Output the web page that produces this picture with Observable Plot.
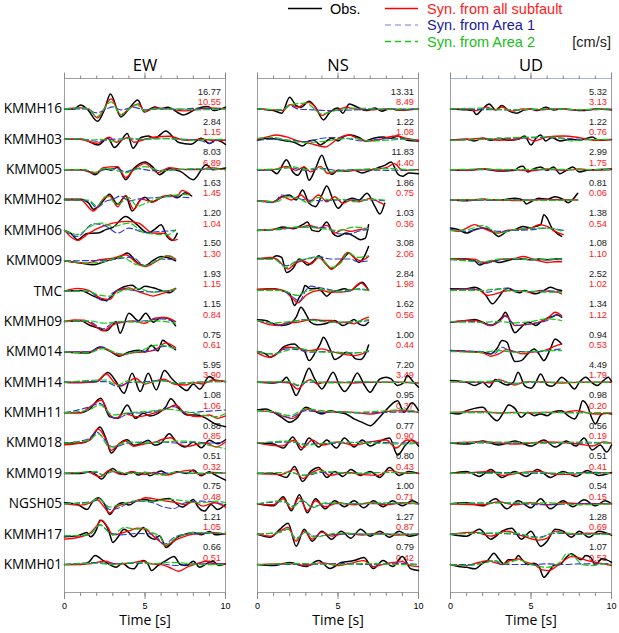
<!DOCTYPE html>
<html><head><meta charset="utf-8">
<script src="https://cdn.jsdelivr.net/npm/d3@7"></script>
<script src="https://cdn.jsdelivr.net/npm/@observablehq/plot@0.6"></script>
<style>
body{margin:0;background:#fff;font-family:"Open Sans",sans-serif;}
#legend{height:50px;width:619px;}
#legend svg,#chart svg{display:block;}
</style></head><body>
<div id="legend"></div><div id="chart"></div>
<script>
const stations = ["KMMH16","KMMH03","KMM005","KMMH02","KMMH06","KMM009","TMC","KMMH09","KMM014","KMMH14","KMMH11","KMM018","KMM019","NGSH05","KMMH17","KMMH01"];
const components = ["EW","NS","UD"];
const timeTicks = [0,1,2,3,4,5,6,7,8,9,10];
const timeLabels = [0,5,10];

// peak amplitudes [cm/s]
const obsMaxEW = ["16.77","2.84","8.03","1.63","1.20","1.50","1.93","1.15","0.75","5.95","1.08","0.88","0.51","0.75","1.21","0.66"];
const synMaxEW = ["10.55","1.15","6.89","1.45","1.04","1.30","1.15","0.84","0.61","3.90","1.06","0.85","0.32","0.48","1.05","0.51"];
const obsMaxNS = ["13.31","1.22","11.83","1.86","1.03","3.08","2.84","1.62","1.00","7.20","0.95","0.77","0.80","1.00","1.27","0.79"];
const synMaxNS = ["8.49","1.08","4.40","0.75","0.36","2.06","1.98","0.56","0.44","3.49","0.37","0.90","0.43","0.71","0.87","0.42"];
const obsMaxUD = ["5.32","1.22","2.99","0.81","1.38","1.08","2.52","1.34","0.94","4.49","0.98","0.56","0.51","0.54","1.28","1.07"];
const synMaxUD = ["3.13","0.76","1.75","0.06","0.54","1.10","1.02","1.12","0.53","1.79","0.20","0.19","0.41","0.15","0.69","0.53"];

// waveforms: "time,amplitude" pairs (amplitude in display units, up positive)
const obsEW = [
"0,0 0.6,0 1.0,4 1.4,0 2.05,-12.4 2.5,0 2.85,15 3.5,-8 4.0,0 4.55,9 4.95,-3 5.6,2 6.0,0 6.4,1.7 7.4,-6 8.2,0 8.9,2.3 9.3,-1.7 10,1.7",
"0,0 1.0,0 1.45,-1.7 2.07,-5.7 2.7,1 3.1,-8.3 3.5,-1.7 3.9,5.7 4.25,-9 4.75,1.7 5.2,3.3 5.6,1 6.3,8.3 6.8,1 7.1,-3.3 7.85,-5 8.5,1 9.0,-4.3 9.4,-0.7 10,-5",
"0,0 1.0,0 1.5,-1.7 1.9,-5 2.4,1 2.9,-0.5 3.3,2.3 3.8,-10 4.3,1 5.0,7.7 5.5,2.3 5.9,-5 6.5,1 7.2,-1.7 8.0,-10 8.8,5 9.2,0 10,1.7",
"0,0.7 1.0,0.7 1.5,-3 1.8,-9.3 2.4,-1 2.8,5.7 3.3,-4.3 3.8,4 4.2,-11 4.7,0 5.0,2.7 5.4,-2 6.0,2.3 6.6,4.7 7.0,2.3 7.5,7.3 7.9,4",
"0,0 0.4,-3 0.8,-9.3 1.4,-3 2.07,-2.7 2.6,1 3.0,3 3.8,14 4.5,5.7 5.2,-2.7 5.6,1 6.0,5.7 6.4,-7 6.7,-10 7.0,-3",
"0,0 1.0,-2.3 1.8,-4 2.5,-0.7 3.5,4.3 3.9,7.7 4.5,-1.7 5.0,-5 5.5,0.3 6.0,4.3 6.5,2.7 6.9,0",
"0,0 1.0,0.7 1.8,-5 2.6,-9.3 3.2,0 4.2,6 4.6,1.7 5.0,5 5.5,3.3 6.0,0.7 6.5,-1.7 6.9,2.7",
"0,0 1.0,0.7 1.6,-4 2.0,-6 2.6,-9.3 3.0,-3.3 3.2,0 3.45,-11.7 4.0,8.3 4.6,0.7 5.05,8.3 5.5,-0.7 6.0,4 6.5,2.7 6.9,-4.3",
"0,0 1.5,-1 2.2,5 2.8,1 3.4,-4.3 4.0,0 4.6,1.7 5.0,0 5.4,6.7 5.8,1 6.1,11.7 6.5,6.7 6.9,2.3",
"0,0 1.0,-0.3 2.0,0.7 2.7,9.7 3.2,0.7 3.7,-11 4.2,9 4.7,-9.3 5.2,9 5.7,-7.7 6.2,11.7 6.7,3 7.2,-4.3 7.6,-8.3 8.0,-1.7 8.4,-7 9.0,5.7 9.4,1.7 10,0.7",
"0,0 1.0,0 1.5,2.7 2.25,14.4 2.8,-4 3.3,-5.7 3.9,7.7 4.4,-5.7 4.9,-0.7 5.3,-3.3 5.8,-0.7 6.3,6 6.6,14 7.1,4.3 7.6,-2.3 8.2,-2.3 8.8,-5.7 9.3,-10.7 10,-14",
"0,0 1.0,0 1.6,3.3 2.2,16 2.6,3.3 2.9,-10 3.4,-0.7 3.9,3.3 4.3,-2.3 4.8,0 5.2,2.7 5.6,-2.3 6.0,0 6.5,9.3 7.0,0 7.5,-4 8.0,1 8.5,-4.7 9.0,2.7 9.5,-0.7 10,3.3",
"0,0 1,0 1.6,1.7 2.0,-1.7 2.3,-5.7 2.7,1.7 3.0,5 3.4,0 3.8,-1 4.2,1.7 4.6,-1.7 5.0,1 5.3,-2.3 6.0,2.3 6.5,-1 7.0,1.7 7.6,0 8.0,3.3 8.5,-2.3 9.0,1.7 9.3,-1 10,-6.7",
"0,1 0.8,-0.7 1.4,-5.7 1.8,3.3 2.1,6 2.5,-0.7 2.8,-10.7 3.2,-2.3 3.6,1 4.0,-1.3 4.5,3.3 5.0,4.3 5.5,2.7 6.0,4.3 6.5,5.3 6.9,1 7.3,-3.3 7.6,-0.7 8.0,4.3 8.3,-3.3 8.7,-7.3 9.1,-0.7 9.5,-5.7 10,-0.7",
"0,-2.7 0.8,-1.7 1.4,1.7 1.6,-2.7 2.0,5 2.2,14 2.6,8.3 2.8,0.7 3.0,-8.3 3.3,-3.3 3.7,5 4.0,1.7 4.3,-2.7 4.6,1.7 4.9,6.7 5.2,-1.7 5.6,-5 5.9,-1.7 6.1,-6.7 6.3,-13.3 6.7,-8.3 7.0,-3.3 7.5,0 8.0,1.7 8.5,-0.7 9.0,2.7 9.4,-0.7 10,0.7",
"0,0 1.0,0 1.5,2.3 1.9,9 2.4,4 2.8,0 3.2,-2.7 3.6,1.3 4.0,-3.3 4.3,-4.3 4.6,1.3 4.9,4 5.2,0 5.4,-6 5.8,-1 6.3,4 6.8,8 7.2,0 7.6,-1 8.0,3.3 8.4,-2.7 8.8,0.7 9.2,3.3 9.6,-1 10,0.7"];
const synEW = [
"0,0 1.0,1 1.5,0 2.05,-9 2.9,10 3.5,-6 4.0,0 4.6,5 5.0,-3 5.6,1 6.5,0 7.4,-2 8.5,0 9,1 10,0",
"0,0 1,0 2.0,-4 2.8,2 3.2,-3 4.0,2 4.3,-3 5.0,0 5.5,2 6.5,3 7.5,-1 8.5,0 9.3,-1 10,-1",
"0,0 1,0 1.9,-4 2.4,2 3.3,3 3.8,-8 4.3,0 5.0,6 5.8,-3 6.5,2 7.5,0 8.5,0 9.0,2 10,0",
"0,0 1.0,0 1.8,-11 2.4,0.7 2.8,4 3.3,-6.7 3.8,4.7 4.3,-9.3 4.8,0.7 5.5,-2 6.2,4 7.0,4 7.3,9.7 7.8,5.7",
"0,0 0.8,-10 1.5,-3 2.1,2.3 3.0,7.3 3.9,9 4.6,7.3 5.5,-2.7 6.2,-3 6.8,-10 7.0,-9",
"0,0 1.3,-2.3 2.2,1 3.0,2.7 3.8,6 4.5,-2.3 5.0,-5.7 5.7,-0.7 6.4,5 6.9,1.7",
"0,0 0.8,2.7 1.5,0.7 2.3,-7.3 2.8,-8.3 3.3,0.7 4.0,3.3 4.5,0 5.0,-2.7 5.5,-5 6.0,-2.7 6.5,0 6.9,2.7",
"0,0 0.6,1.7 1.2,1.3 1.8,-3.3 2.4,-9.3 3.0,-3.3 3.6,-0.7 4.2,0.7 5.0,-1.7 5.6,3.3 6.2,4 6.9,0",
"0,0 1.5,0 2.3,4.3 3.0,-1 3.5,-3.3 4.2,-1 5.0,0 5.6,1.7 6.3,9 6.9,4.3",
"0,0 1.0,-0.3 2.0,0.7 2.6,8.3 3.1,-0.3 3.5,-3.7 4.0,0.7 4.4,4 5.0,-1.7 5.5,0.7 6.2,3 6.8,-1.7 7.5,-2.7 8.0,-0.3 8.6,-1.7 9.2,2.3 10,0.7",
"0,0 1.0,0 1.6,6 2.3,12.7 2.8,-2.3 3.2,-5.7 3.7,-0.7 4.5,-4 5.5,-0.7 6.4,4.3 6.9,7.7 7.5,-0.7 8.3,-4 9.0,-2.3 9.5,-5.7 10,-3.3",
"0,-1.7 1.0,0 1.5,2.7 2.1,14 2.6,2.7 2.9,-7.3 3.4,-0.7 3.8,2 4.3,-3.3 5,-0.7 5.5,0 6.0,3.3 6.6,5.3 7.1,-0.7 7.7,-3.3 8.2,-1.3 8.8,0 9.4,-4 10,1",
"0,0 1.5,1 2.2,-3.3 2.8,3.3 3.5,-1 4.2,1.7 5.0,-1 5.6,1 6.3,-1.7 7.0,1 7.8,3.3 8.4,-1 9.2,1 10,0",
"0,0 1.0,-1.3 1.6,1 2.0,4.3 2.5,-4 2.8,-9 3.3,-2.3 4.0,1 4.6,3.3 5.0,6 5.8,4.3 6.3,2.7 7.0,1 7.5,-0.7 8.0,2 8.6,-2.3 9.3,1 10,-3.3",
"0,-5 0.8,-3.3 1.5,0 2.0,8.3 2.3,14 2.7,6.7 3.0,-0.7 3.5,0.7 4.0,3.3 4.5,6 5.0,5 5.5,-1.7 6.0,-8.3 6.3,-11.7 6.8,-6.7 7.3,-3.3 8,0 8.6,0.7 9.2,1.7 10,0",
"0,0 1.5,0.7 2.5,3.3 3.2,0.7 4,1.3 4.8,3.3 5.4,0.7 6.0,0 6.5,-2.7 7.1,-6.7 7.6,-2.7 8.2,0.7 8.8,3.3 9.4,0.7 10,0.7"];
const area1EW = [
"0,0 1.3,0 2.0,-4 2.6,0 3.0,2 3.5,-1 4.3,1.5 5.0,-1 6,0 7,-0.5 8,0.5 10,0",
"0,0 1.2,0 2.0,-2 3,0 4,0.5 4.5,0 6,0.5 7.5,0 8.5,-1.5 9.0,-4 9.5,-1 10,0",
"0,0 1.2,0 1.8,-3 2.5,0 3.2,1 3.8,-2 4.5,1 5.5,-1 7,0 8,0.5 10,0",
"0,0 1.5,-1 2.0,-7.7 2.6,-1 3.0,0.7 3.5,4 4.0,-1 4.5,0.7 5.5,2.3 6.5,3.3 7.8,2.3",
"0,0 0.8,-6 1.8,6.7 2.6,4 3.3,-2.7 4.0,2.3 5.0,-2 6.0,-1 6.9,0",
"0,0 2.0,0.3 3.2,1.7 4.2,3.7 5.0,-5 6.0,1.7 6.9,1",
"0,0 1.5,0 2.2,-8.3 2.6,-10 3.0,-1.7 3.8,1.7 4.5,0 5.5,-0.7 6.9,1.7",
"0,0 1.5,0 2.4,-7.3 3.0,-1.7 4,0 5,0.7 6,2.7 6.9,-0.7",
"0,0 1.5,0 2.3,5 3.0,0 3.6,-2.3 4.5,0 5.5,1.7 6.0,5 6.5,5.7 6.9,2.3",
"0,0 2.5,0.7 3.3,-4.3 4.0,-0.3 5,0.7 6,1.7 7,-1 8,0 10,0.7",
"0,0 1.6,6 2.2,9.3 2.8,-2.3 3.3,-5.7 4.0,-0.7 5,0 6,2.7 6.8,6 7.5,0 8.5,1 10,2.7",
"0,0 1.5,4.3 2.0,11 2.5,3.3 3.0,-4 4,0 5,1 6,1 7,0 8,1 9,0 10,1",
"0,0 2,1 2.4,-1.7 3,1.7 4,0 5,1 6,0 7,1 8,0 10,0.7",
"0,0 1.8,2.7 2.2,4.3 2.8,-5.7 3.5,-3.3 4.0,1 4.8,2.7 5.5,1 6.2,-3.3 6.8,-4.7 7.5,1 8.5,2.7 9.5,1 10,-1.3",
"0,-1.7 1.5,-0.7 2.2,9.3 2.8,1.7 3.5,-0.7 4.5,0.7 5.5,0 6.2,-10 6.8,-3.3 7.5,0 8.5,0.7 10,0.7",
"0,0 2.0,2 3,0.7 4.5,1.3 6,0.7 7,-1 8,0.7 10,0.7"];
const area2EW = [
"0,0 1.0,1 1.5,0 2.0,-8 2.9,7 3.5,-6 4.0,0 4.5,4 5.0,-2 5.6,0 7,0 8,-1 10,0",
"0,0 1.0,0.5 1.5,-1 2.3,0 3.0,-2 4.0,1 5,0 6,1 7,0 8,-1 9,0 10,0",
"0,0 1.2,0 2.0,-3 2.4,1 3.0,0 3.8,-3 5.0,3 6.0,-1 7,0 8,1 10,0",
"0,0 1.5,0 2.0,-6 2.6,4 3.3,-4.3 4.0,2.3 4.5,-6 5.5,0 6.5,4 7.5,5.7 7.8,4",
"0,0 0.8,-4 1.6,4 2.3,7.3 3.0,4 4.0,7.3 5.0,-2.7 6.4,-4.3 6.9,0.7",
"0,0 1.5,-2.3 2.5,-0.7 3.5,3.7 4.5,-4 5.0,-5 6.0,2.7 6.5,5 6.9,1.7",
"0,0 1.5,0 2.0,-3.3 2.8,-5 3.5,0 4.5,2.7 5.5,-1 6.9,1.7",
"0,0 1.5,0.7 2.5,-1.7 3.5,0 4.5,-0.7 5.5,0.7 6.9,-1.7",
"0,0 1.5,-1 2.4,3.3 3.5,-2.3 4.5,0 5.8,6.7 6.9,3.3",
"0,0 2.5,2.3 3.3,-2.7 4.0,1.7 5.0,-1 6.0,1.7 7.0,-1 8,0 10,0.7",
"0,0 1.5,2.7 2.2,7.7 3.0,-2.3 4,0 5,1 6.5,3.3 7.5,1 9.5,-4 10,-0.7",
"0,0 1.5,2.7 2.1,9.3 2.8,-4 4,1 5,0 6,1 7.5,2 9.0,-2.3 10,-5.7",
"0,0 2.0,1.7 2.4,-1.7 3.0,2.3 4,0 5,1 6.0,-1.7 7,1.7 8,0 10,0",
"0,0 1.5,1 2.1,5.3 2.8,-3.3 3.5,-0.7 4.5,3.3 5.5,2.7 6.5,4.3 7.3,3.3 8.5,1 9.5,2.7 10,1",
"0,-1.7 1.5,-0.7 2.2,9.3 3.0,-0.7 3.7,6.7 4.5,5 5.0,5.7 5.4,1.7 5.9,-1.7 6.3,-10.7 6.8,-5 7.5,0 8,1.7 10,0.7",
"0,0 2.0,1.3 3,0 4.5,2.3 5.5,0.7 6.5,2.3 7.5,1.3 8.5,0 10,0"];

const obsNS = [
"0,0 1.0,-1.7 1.5,-4.3 2.0,11.7 2.4,3.3 2.7,1.7 3.2,7.7 3.6,1.7 4.1,-11 4.5,-3.3 5.0,1 5.3,-4.3 5.7,5 6.2,1.7 6.8,-1.7 7.3,1 7.7,-2.3 8.2,0 8.7,-1 9.2,-1 10,0",
"0,-1 0.6,1 1.2,0 1.8,-1.7 2.3,-3.3 2.8,-6.7 3.2,-1.7 3.5,-1 3.9,-5.7 4.3,-1.7 4.6,1 5.0,-1.7 5.4,3.3 5.8,4.3 6.3,1.7 6.7,-1.7 7.2,1 7.8,2.3 8.3,1 8.7,3.3 9.3,-1 10,-1.7",
"0,0 0.8,0 1.2,-4 1.8,10 2.2,-2.3 2.5,-5.7 2.9,2.7 3.2,-10.7 3.6,1 4.0,14.3 4.3,2.7 4.6,-4.7 5.0,-0.7 5.5,-1.3 6.0,-0.7 6.5,-3.3 7.0,-0.7 7.5,2 7.9,4.3 8.3,7.7 8.7,-4 9.0,-6.7 9.4,-3.3 10,-4",
"0,-1 1.0,-1.7 1.5,3.3 2.0,5 2.4,0 2.8,10 3.2,-3.3 3.6,-6.7 4.0,5 4.3,14 4.7,0 5.0,-8.3 5.4,-1.7 5.9,1.7 6.3,0 6.8,6.7 7.3,-6.7 7.6,-14 7.9,-3.3",
"0,0 1.0,1 1.6,3.3 2.2,1.7 2.8,5.7 3.1,8.3 3.4,0 3.8,-1 4.3,8.3 4.7,-3.3 5.0,-6 5.5,-2.7 6.0,-6 6.4,-9.3 6.7,-7.7 6.9,5.7",
"0,2.3 0.8,2.3 1.2,5 1.5,3.3 1.8,-11.7 2.2,-7.7 2.6,1.7 2.9,-1.7 3.1,-4.3 3.5,0 3.8,5 4.2,-1.7 4.6,-8.3 4.9,-5 5.3,1.7 5.7,7.7 6.0,3.3 6.3,-1.7 6.6,3.3 6.9,14.3",
"0,1.7 1.0,2.3 1.5,0.7 2.0,-2.7 2.3,-14.3 2.6,-6 2.8,-1 2.95,5.7 3.3,2.3 3.7,3 4.0,-0.3 4.3,-5 4.6,-1 5.0,0.7 5.4,2.3 5.8,0.7 6.2,5.7 6.5,9 6.9,0.7",
"0,1.7 0.5,1 1.0,-2.3 1.5,-4 2.0,-2.3 2.4,4.3 2.7,14.3 3.0,7.7 3.3,-0.7 3.7,-3.3 4.2,-2.3 4.8,1 5.3,-4 5.7,-0.7 6.0,2 6.3,-2.3 6.6,-4 6.9,-0.7",
"0,0.3 0.5,-2 0.8,-5.3 1.2,-2 1.6,4.7 1.9,7 2.3,8 2.6,3.7 2.9,1.3 3.2,-8.7 3.6,-0.3 3.9,8 4.1,14.7 4.5,3 4.8,-7.7 5.1,-5.3 5.5,-0.3 5.8,-2 6.1,-7 6.4,-7.7 6.7,-2 6.9,7",
"0,0 1.0,-0.7 1.5,0.7 1.8,5 2.1,-3.3 2.4,-13.3 2.8,0 3.2,14 3.5,5 3.8,-3.3 4.0,-6.7 4.3,0 4.7,10 5.1,-3.3 5.4,-9.3 5.8,-1.7 6.2,9.3 6.6,-1.7 7.0,-10 7.3,-3.3 7.6,3.3 8.0,5 8.3,3.3 8.7,-3.3 9.1,0 9.3,6.7 9.7,0 10,-5",
"0,2.7 0.5,3.7 1.0,0.3 1.5,-4.7 2.0,-9.7 2.4,-6.3 3.0,5.3 3.5,2 4.0,-1.3 4.5,2 5.0,0.3 5.5,-1.3 6.0,-6.3 6.5,-9.7 7.0,-13 7.5,-6 8.0,3 8.7,12 9.1,0.3 9.6,10 10,2",
"0,0 1,-1 1.6,-5 2.2,6 2.7,-7 3.2,5 3.8,-4 4.3,3 4.9,-5 5.4,5 6.0,-4 6.5,3 7.0,-3 7.5,1 8.2,5 8.7,-12 9.2,-2 9.6,3 10,-3",
"0,0 1,0 1.8,-4 2.3,7 2.8,-8 3.3,2 3.8,6 4.3,-4 4.8,2 5.3,-3 5.8,4 6.4,-2 7,2 7.6,-4 8.2,6 8.8,-2 9.4,2 10,0",
"0,0 1,-2 1.6,7 2.1,-7 2.6,9 3.1,-9 3.6,5 4.2,-5 4.8,3 5.4,-3 6,3 6.6,-4 7.2,3 7.8,-3 8.4,3 9,-2 9.6,3 10,0",
"0,0 0.8,-3 1.4,5 1.9,11 2.4,-12 2.9,5 3.4,-7 4,3 4.6,-5 5.2,3 5.8,-4 6.4,5 7,-2 7.6,3 8.2,-3 8.8,3 9.4,-2 10,0",
"0,0 1,-1 2,2 3,-2 3.8,4 4.5,-4 5.2,2 6,4 6.6,7 7.2,-4 7.8,4 8.4,-2 9,8 9.5,-4 10,-6"];
const synNS = [
"0,0 1,-1 1.6,-1.7 2.0,4.3 2.5,1.7 3.1,6.7 3.5,3.3 4.0,-6.7 4.5,-2.3 5.0,-1 5.5,1.7 6,0 7,-1 8,0 9,-1 10,0",
"0,0 0.6,2.3 1.2,4.3 1.8,2.3 2.5,-1.7 3.3,-4.3 4.2,-7.7 4.8,-1.7 5.2,2.3 5.7,4.3 6.2,1 6.8,-1.7 7.4,-1 8.0,1.7 8.6,3.3 9.2,1 10,-1",
"0,0 1.0,0 1.8,3.3 2.4,-0.7 2.9,2.7 3.3,-2.3 3.9,3.3 4.4,-4 5.0,-1.3 6,-0.7 7,0 8,2 8.5,6 9,-0.7 10,0",
"0,-1 1.0,-1.7 1.6,3.3 2.1,0 2.7,5 3.2,-1.7 3.8,5 4.3,-1.7 4.8,3.3 5.3,-3.3 5.8,0 6.3,-1.7 7.0,1.7 7.5,-1.7 7.9,-5",
"0,0 1,1 2,2.3 2.7,3.3 3.2,5 3.8,2.3 4.3,5 4.8,-2.7 5.3,0.7 5.8,-1 6.3,0.7 6.9,2.3",
"0,1.7 0.8,3.3 1.2,1.7 1.9,-8.3 2.3,-3.3 2.8,0 3.3,-3.3 3.8,3.3 4.3,-4.3 4.6,-8.3 5.0,-3.3 5.6,8.3 6.0,3.3 6.4,0 6.9,4.3",
"0,1.7 1,2.3 1.6,0.7 2.2,-7.7 2.5,-11.7 3.0,-4.3 3.5,-0.3 4.0,0.7 4.5,-1 5.2,-1 5.8,0.7 6.4,8.3 6.9,0.7",
"0,1 0.8,-3.3 1.3,-4 1.8,-1.3 2.5,-0.7 3.0,1 3.5,2 4.0,1 4.6,1 5.0,-1.3 5.5,-0.7 6.0,-2.3 6.5,2 6.9,4.3",
"0,-1 0.7,-5.3 1.2,-2 1.8,4.7 2.5,3.7 3.2,1.3 4.0,3 4.7,-0.3 5.3,-2 6.0,-3.7 6.5,-2 6.9,1.3",
"0,0 1.5,0 2.0,-0.7 2.5,-6.7 3.0,0.7 3.3,2.7 3.7,-1.7 4.2,0 5,0 6,-0.7 7,0 8,0 9,0 10,-0.7",
"0,2 1,0.3 1.5,-3 2.2,-5.7 3.0,3.7 3.5,2 4,0.3 5,1 6,0.3 7,-1.3 8,1 9,2 10,0.3",
"0,0 1.5,-3 2.3,3 2.8,-5 3.4,3 4,-2 5,1 6,-2 7,1 8,3 8.6,-5 9.3,3 10,0",
"0,0 1.5,-1 2.3,4 2.8,-5 3.4,1 3.9,4 4.5,-2 5.5,1 6.5,-1 7.5,-2 8.2,3 9,0 10,0",
"0,0 1,-1 1.6,5 2.1,-5 2.6,6 3.1,-7 3.6,3 4.2,-3 5,1 6,-1 7,1 8,-1 9,1 10,0",
"0,0 0.8,-2 1.4,3 1.9,7 2.4,-7 2.9,3 3.4,-5 4,2 4.6,-2 5.5,1 6.5,-1 7.5,1 8.5,-1 10,0",
"0,0 2,1 3,-1 4,2 5,-1 6,2 6.6,4 7.2,-2 8,1 9,3 9.5,-1 10,-2"];
const area1NS = [
"0,0 1.5,-1 2.0,3.3 2.5,0 3.5,-1 4.5,-1.7 6,-1 8,-0.3 10,0",
"0,-1 1,0 2,-1 3,-2.3 4,1 4.5,1.7 5.5,1 6.5,-1.7 7.5,0 8.5,1 10,-1",
"0,-0.7 1,0 2,2 3,-0.7 4,1 5,-0.7 6,0 8,-0.7 10,0",
"0,-1 1.0,-2.7 1.5,5 2.0,3.3 2.5,1.7 3.0,0 4,-0.7 5,0 6,0 7,0 7.9,-0.7",
"0,0 1.5,1 2.5,3.3 3.5,3.3 4.5,1.7 5.0,-3.3 5.5,-4 6.5,0 6.9,1",
"0,1.7 1,1.7 1.8,-5 2.3,-1.7 3.0,1.7 3.8,4.3 4.5,1.7 5.0,1.7 5.8,1.7 6.2,-1 6.9,0",
"0,0.7 1.5,0.7 2.2,-6 2.6,-10 3.0,0.7 3.3,5 4.0,3 4.8,0.7 5.5,-0.3 6.3,2.3 6.9,0.7",
"0,1 1.0,-2.3 1.5,-3.3 2.0,-0.7 2.5,1 3.0,2 3.8,1 4.5,-0.7 5.5,-0.7 6.5,0 6.9,1",
"0,-0.3 1,-2 1.8,3 2.5,2.3 3.2,-0.3 4,0.3 5,-0.3 6,-1 6.9,0.3",
"0,0 2,0 2.5,-3.3 3,0 4,0 6,0 8,0 10,-0.7",
"0,2 1,0.3 2,-4.7 3,2 4,0.3 5,1 6,-0.3 8,0.3 10,1",
"0,0 2,1 3,-1 5,0 7,1 9,0 10,0",
"0,0 2,1 3,-2 4,1 6,0 8,1 10,0",
"0,0 1.6,2 2.2,-2 2.8,3 3.4,-3 4.2,0 6,0 8,0 10,0",
"0,0 1.4,2 1.9,5 2.4,-4 3,2 3.5,-2 5,0 7,0 10,0",
"0,0 3,0 5,1 7,0 9,1 10,0"];
const area2NS = [
"0,0 1.5,-1 2.1,4.3 3.0,5.7 4.0,-5 5.0,-1 6,0.7 8,-0.3 10,0",
"0,1 1,1.7 2,-1.7 3,-3.3 4,-2.3 5,0 6,1 7,-1.7 8,-1 9,0 10,-1",
"0,0 1.5,1 2.2,2.7 3,0 3.8,2 4.5,-2.3 6,0 8,1 10,-0.7",
"0,-1 1.2,-1.7 1.8,3.3 2.5,1.7 3.2,-2.7 3.8,2.7 4.5,0 5.2,0.7 6,-1.7 7,0.7 7.9,0",
"0,0 1.5,1.7 2.2,3.3 3,3.3 4,1.7 5,0 6,3.3 6.9,1.7",
"0,1.7 1,1.7 1.8,-6.7 2.3,-1 3.0,1.7 3.8,3.3 4.6,-6.7 5.2,-1.7 5.6,8.3 6.2,3.3 6.9,5",
"0,0.7 1.5,0.7 2.5,-4.3 3,-0.3 4,1.7 5,-0.3 6,1.7 6.9,0.7",
"0,1 1.0,-1.3 2.0,0 3.0,1.7 4.0,0 5.0,-0.7 6.0,0 6.9,2",
"0,0.3 1,-2 1.8,1.3 2.5,3.7 3.5,0.3 4.5,-0.3 5.5,-1 6.5,-0.3 6.9,1.3",
"0,0 2,0.7 2.5,-2.7 3.2,1.7 4,0 5,-0.7 6,0.7 8,0 10,0",
"0,2 1,1 2,-3 3,3.7 4,2 6,0.3 8,2 9,3 10,1",
"0,0 2,2 3,-2 5,1 7,0 9,-1 10,0",
"0,0 2,1 2.8,-2 4,2 6,0 8,1 10,0",
"0,0 1.6,3 2.2,-3 2.8,4 3.4,-4 4.2,1 6,0 8,1 10,0",
"0,0 1.4,2 1.9,5 2.4,-5 3,2 3.5,-3 5,1 7,0 10,0",
"0,0 3,1 5,0 7,1 9,0 10,0"];

const obsUD = [
"0,0 1.0,-1 1.4,-1.7 1.6,-5.7 2.0,0 2.4,5 2.8,-1 3.2,3.3 3.6,-1.7 4.1,-4.3 4.6,-1 5.0,0 5.4,-1.7 5.9,1.7 6.4,-1 7,0 8.2,-1.7 9,0 10,-1",
"0,-1 1,0 1.5,-1.7 2,1 2.5,-1 3,1 3.6,-1 4.2,0 4.6,3.3 5.0,-5.7 5.3,1 5.6,4.3 5.9,-1.7 6.3,1.7 6.8,-1.7 7.5,0 8,-1 8.8,2.3 9.2,-1 10,-0.3",
"0,0 1,-0.7 2,0.7 3,-1.3 4.0,-0.7 4.2,2 4.5,3.3 4.8,-2.3 5.2,1 5.6,2.7 6.0,-0.7 6.4,2.7 6.8,-4 7.2,-0.7 7.6,2.7 8.0,-2.3 8.5,-0.7 9,0 10,0.7",
"0,0 1,-0.7 2,0.7 3,0 4,1.7 4.5,0 4.7,-4 5.0,-1.7 5.5,1.7 6.0,0.7 6.5,3.3 7.0,0.7 7.3,-2.7 7.6,0.7 7.9,6.7",
"0,2.3 0.5,0.7 1,-2.7 1.5,0.7 2,2.3 2.5,0 3,-6 3.5,-1 4,0.7 4.5,4 5,2.3 5.3,4 5.6,5.7 5.8,15.7 6.0,12.3 6.3,2.3 6.6,-2.7 6.9,-6",
"0,1.7 1,1.7 1.5,0 1.8,-4.3 2.2,-1.7 2.6,0 3,-1.7 3.5,0 4,1.7 4.5,1.7 5,1 5.5,1.7 6,1 6.5,1.7 6.9,1.7",
"0,2.3 1,2.3 1.5,4 1.8,2.3 2.2,-4.3 2.6,-12.7 3.0,-6 3.3,0.7 3.6,3 4.0,-0.3 4.3,-1.7 4.6,0.7 4.9,-1 5.3,-2.7 5.8,0.7 6.2,4 6.6,1.7 6.9,0.7",
"0,-0.7 0.5,0 1,1 1.5,2 2,-0.7 2.5,-4 3,1 3.2,4.3 3.4,9.3 3.6,4.3 3.8,-5.7 4.0,-11.3 4.3,-7.3 4.6,-2.3 4.9,-0.7 5.3,-4 5.6,-0.7 6,3.3 6.4,5.3 6.6,6.7 6.9,4.3",
"0,1.3 1,0.3 2,-0.3 2.5,-2 2.9,3.7 3.2,11.3 3.5,9.7 3.8,-3.7 4.0,-9.7 4.4,-8.7 4.8,-2 5.2,3 5.5,-2 5.8,-8.7 6.2,3 6.5,13 6.8,9.7 6.9,8",
"0,1.7 1,0 1.5,-3.3 2,0 2.4,-5 2.8,2.7 3.1,0 3.5,-2.7 3.9,0 4.2,10 4.6,-3.3 5.0,-6 5.3,0 5.6,8.3 6.0,-2.7 6.3,-4 6.6,0 6.9,5 7.3,0 7.7,-6.7 8.0,0 8.4,5 8.8,-0.7 9.1,-3.3 9.5,1.7 9.8,5 10,0.7",
"0,-0.3 0.5,-1.3 1,2 1.5,4.3 2,5.3 2.4,-1.3 2.9,-8 3.3,0.3 3.6,7.7 4.0,4.3 4.4,-4.7 4.8,0.3 5.2,-3 5.6,-1.3 6.0,-3 6.4,1 6.9,2 7.3,-3 7.7,-6.3 8.0,2 8.2,12 8.5,7 8.8,-6.3 9.0,-11.3 9.3,-3 9.6,-0.3 10,-1.3",
"0,0 1,-1 2,2 3,-2 4,2 5,-3 5.8,3 6.5,-4 7.2,2 7.8,-3 8.3,5 8.8,-7 9.3,-2 9.7,-9 10,-2",
"0,0 1,2 1.8,-3 2.5,4 3.2,-4 4,2 4.7,-3 5.4,4 6.2,-4 7,2 7.8,-3 8.5,3 9.2,-2 10,1",
"0,0 1,1 2,-2 2.8,5 3.5,-5 4.2,3 5,-4 5.6,5 6.2,-5 7,3 7.6,-3 8.3,4 9,-2 9.6,3 10,0",
"0,0 1,-2 1.8,5 2.5,-5 3.2,3 3.8,6 4.4,-5 5,3 5.6,-12 6,-7 6.5,5 7,3 7.5,-3 8,3 8.6,-3 9.2,3 10,-1",
"0,0 0.5,-2 1.0,-2.7 1.5,-4.3 2.0,1.3 2.3,4 2.7,11.3 3.0,5.7 3.3,0.7 3.6,4.7 4.0,4.7 4.2,9 4.5,4 4.8,0 5.2,1.3 5.5,-2 5.8,-12.7 6.1,-7.7 6.4,-1 6.8,0 7.2,7.3 7.5,10.7 7.8,8 8.1,4.7 8.4,9 8.7,7.3 9.0,0 9.4,5.7 9.7,4.7 10,2.3"];
const synUD = [
"0,0 1,0 1.6,-1.7 2.2,1.7 2.8,-1 3.2,1.7 3.8,-2.3 4.5,0 5.5,-1 6.5,0 8,-1 10,-0.3",
"0,-1 1,0 2,1 3,-1 4,-0.3 4.6,1.7 5.2,-1.7 6,2.3 7,3.3 8,1.7 9,-1 10,-0.3",
"0,0 1,-0.7 2,1 3,-0.7 4,0 5,-1.3 6,0.7 7,-0.7 8,0.7 9,-0.7 10,0",
"0,0 2,0.5 4,-0.5 6,0.5 7.9,0",
"0,0 0.5,-1 1,2.3 1.5,5.7 2,2.3 2.5,-1 3,-2.7 3.5,0 4,0.7 5,2.3 5.5,5.7 6,4 6.5,-1 7,-4.3",
"0,1.7 1.5,1.7 2,-1.7 2.5,-1 3.2,1.7 4,2.3 4.5,4.3 5,2.3 5.5,0 6,-1.7 6.5,-1 6.9,-1",
"0,1.7 1.2,2.3 1.8,0.7 2.3,-4.3 2.8,-2.7 3.3,-0.3 3.8,0.7 4.5,0 5,-1 5.6,0.7 6.2,-0.3 6.6,-1 6.9,-2.7",
"0,-0.7 1,1 1.5,1 2,-1.3 2.4,-4 3,-0.7 3.4,6 3.8,-0.7 4.0,-4 4.5,-3.3 5.0,-2.3 5.5,-0.7 6.0,2.7 6.5,9.3 6.9,6",
"0,1.3 1,0.3 2,-1 2.5,-4.3 3,-2 3.5,2.3 4,0.3 4.5,-2 5,-0.3 5.5,0.3 6.0,2.3 6.5,5.7 6.9,8",
"0,0.7 2,0 2.5,-0.7 3,2.7 3.5,0 4,-2.7 4.5,0 5,0.7 6,0 7,-0.7 8,0 9,0 10,0",
"0,0.3 2,1 3,-0.3 4,0.3 5,-0.3 6,0.3 7,0.3 7.8,2 8.4,0.3 9,-1.3 10,-0.3",
"0,0 2,1 4,-1 6,1 8,-1 8.8,-3 9.5,1 10,0",
"0,0 1.5,1 2.5,2 3.2,-2 4.5,1 5.5,2 6.5,-1 7.5,-1 8.5,1 10,0",
"0,0 2,-1 3,2 4,-1 5,1 6,-1 7,1 8,0 10,0",
"0,0 1.5,2 2.5,-2 3.5,3 4.5,-2 5.5,-6 6,-4 6.5,3 7.5,0 8.5,1 10,0",
"0,0 1,-1 1.8,2.3 2.3,4 2.7,2.3 3.2,0 3.7,4 4.2,5.7 4.7,2.3 5.2,0 5.7,-5.3 6.1,-6 6.5,-2.7 7.0,3.3 7.5,8 8.0,6.7 8.5,4 9.0,2.3 9.5,0.7 10,-1"];
const area1UD = [
"0,0 2,-0.7 4,-1 6,-0.3 8,-1 10,-0.3",
"0,-1 2,0 4,1 6,1.7 7,1 8,0 10,-0.3",
"0,0 3,0 6,0 10,0",
"0,0 2,-0.3 4,0.3 6,0 7.9,0",
"0,1.3 1,-1 2,2.3 3,-1 4,0 5,0.7 6,2.3 7,0",
"0,1 1.5,0 2,-3.3 2.8,0 3.5,1.7 4.5,1.7 5.5,1 6.9,1",
"0,1.7 1.5,2.3 2.3,-1 3,2.3 3.5,3 4,0.7 5,-0.3 6,0.3 6.9,-0.3",
"0,-0.7 1,0.3 2,-1.3 2.5,-3.3 3.2,2.7 3.4,5.3 3.8,-0.7 4.2,-4 5,-2.3 6,1 6.5,6 6.9,5.3",
"0,1.3 2,0.3 2.7,-2 3.2,4.7 3.8,0.3 4.5,0.3 5.5,0.3 6.5,2.3 6.9,3",
"0,0.7 2,0 3,1 4,-1 5,0 7,0 10,0",
"0,0 3,0 6,0 9,0 10,0",
"0,0 5,0 10,0",
"0,0 3,1 6,0 9,1 10,0",
"0,0 3,1 6,-1 8,0 10,0",
"0,0 2,1 4,0 5.5,-3 6.5,1 8,0 10,0",
"0,0 1,0 2,1.3 2.7,4 3.2,0 4,0 5,0 6,0.7 7,0 8,0.7 9,0.7 10,1.3"];
const area2UD = [
"0,0 2,0.7 3,-0.7 4,-1 6,0 8,-0.7 10,0",
"0,-1 2,0 4,1.7 6,2.3 7,1 7.5,-1.7 8,-1 10,0",
"0,0 2,0.5 4,0 6,0.5 8,0 10,0",
"0,0 2,0.3 4,0 6,-0.3 7.9,0",
"0,0 1,0.7 2,4.7 3,-2.7 4,0.7 5,2.3 6,2.3 7,-1",
"0,1.7 2,-1 3,1.7 4,2.3 5,1 6,1.7 6.9,1.7",
"0,0.7 2,0.7 3,2.3 4,-0.3 5,-0.3 6,-1 6.9,-1",
"0,0 1,-0.7 2,-0.7 3,0 4,-1.3 5,0 6,2.7 6.9,1",
"0,0.3 2,-0.3 3,1.3 4,-0.3 5,0.3 6,1.3 6.9,1.3",
"0,0.7 2,0.7 3,1.7 4,-1.7 5,0.7 6,0 8,0 10,0",
"0,0.3 2,0.3 4,0 6,0.3 8,0 10,0",
"0,0 3,1 6,0 8,1 10,0",
"0,0 3,0 5,1 7,0 10,0",
"0,0 3,1 6,1 8,-1 10,0",
"0,0 2,1 4,1 5.5,-4 6.5,2 8,0 10,0",
"0,0 1,-1 2,1.3 2.8,4 3.4,0.7 4.2,4.7 5,0 6,-2.7 6.8,2.3 7.2,10.7 7.6,9 8.2,0 8.8,-1 9.5,0.7 10,0"];

const seriesNames = ["obs","syn","area1","area2"];
const seriesLabels = ["Obs.","Syn. from all subfault","Syn. from Area 1","Syn. from Area 2"];
const seriesColors = ["#000000","#ff0000","#2a3acc","#14c814"];
const legendLineColors = ["#000000","#ff0000","#a8a8e6","#14c814"];
const legendTextColors = ["#000000","#ff1a1a","#1a1a9c","#18c018"];

const traces = {
  EW: {obs: obsEW, syn: synEW, area1: area1EW, area2: area2EW},
  NS: {obs: obsNS, syn: synNS, area1: area1NS, area2: area2NS},
  UD: {obs: obsUD, syn: synUD, area1: area1UD, area2: area2UD}
};
const maxima = {
  EW: {obs: obsMaxEW, syn: synMaxEW},
  NS: {obs: obsMaxNS, syn: synMaxNS},
  UD: {obs: obsMaxUD, syn: synMaxUD}
};

const ROW = 30.38; // one station row in display units
const parse = s => s.trim().split(/\s+/).map(p => p.split(",").map(Number));

const rows = [];
for (const c of components) for (const s of seriesNames)
  traces[c][s].forEach((str, i) => parse(str).forEach(([t, a]) =>
    rows.push({comp: c, series: s, key: c + s + i, t, y: i - a / ROW})));

const labels = [];
for (const c of components) for (const s of ["obs","syn"])
  maxima[c][s].forEach((v, i) => labels.push({comp: c, series: s, i, text: v}));

const lineOpts = {
  obs:   {stroke: seriesColors[0], strokeWidth: 1.5},
  syn:   {stroke: seriesColors[1], strokeWidth: 1.35},
  area1: {stroke: seriesColors[2], strokeWidth: 1.1, strokeDasharray: "6,3"},
  area2: {stroke: seriesColors[3], strokeWidth: 1.2, strokeDasharray: "6,3"}
};
const numFont = "'Liberation Sans', Arial, sans-serif";

const chart = Plot.plot({
  width: 619,
  height: 583,
  marginLeft: 63.3,
  marginRight: 7.7,
  marginTop: 28,
  marginBottom: 41,
  style: {fontFamily: "'Open Sans', sans-serif", background: "#fff", overflow: "visible"},
  fx: {domain: components, paddingInner: 0.168, paddingOuter: 0, axis: null},
  x: {domain: [0, 10]},
  y: {domain: [15.92, -1]},
  marks: [
    Plot.frame({stroke: "#a0a0a0", strokeWidth: 1}),
    Plot.ruleY(["UD"], {fx: d => d, y: () => -1, stroke: "#aab0ee", strokeWidth: 1.2}),
    Plot.axisX({anchor: "top", ticks: timeTicks, tickSize: 3.5, tickFormat: () => "", stroke: "#8a8a8a", label: null}),
    Plot.axisX({anchor: "top", ticks: timeLabels, tickSize: 6.5, tickFormat: () => "", stroke: "#8a8a8a", label: null}),
    Plot.axisX({anchor: "bottom", ticks: timeTicks, tickSize: 4, tickFormat: () => "", stroke: "#8a8a8a", label: null}),
    Plot.axisX({anchor: "bottom", ticks: timeLabels, tickSize: 7, tickPadding: 3.5, fontSize: 9, fontFamily: numFont, stroke: "#8a8a8a", label: null}),
    Plot.axisY({anchor: "left", ticks: d3.range(stations.length), tickFormat: i => stations[i], tickSize: 0, tickPadding: 2.5, fontSize: 13.6, label: null}),
    Plot.text(components, {fx: d => d, text: d => d, frameAnchor: "top", dy: -19.5, fontSize: 16.5}),
    Plot.text(["Time [s]"], {text: d => d, frameAnchor: "bottom", dy: 32.5, fontSize: 14}),
    Plot.text(labels.filter(d => d.series === "obs"), {fx: "comp", x: 10, y: "i", text: "text", dx: -4.5, dy: -17.3, textAnchor: "end", fontSize: 9.3, fontFamily: numFont, fill: "#222"}),
    Plot.text(labels.filter(d => d.series === "syn"), {fx: "comp", x: 10, y: "i", text: "text", dx: -4.5, dy: -6.8, textAnchor: "end", fontSize: 9.3, fontFamily: numFont, fill: "#ff1a1a"}),
    ...seriesNames.map(s => Plot.line(rows.filter(d => d.series === s), {
      fx: "comp", x: "t", y: "y", z: "key", curve: "monotone-x", ...lineOpts[s]
    }))
  ]
});
document.getElementById("chart").appendChild(chart);

// legend (above the plot)
const legFont = "'Liberation Sans', Arial, sans-serif";
const leg = d3.select("#legend").append("svg").attr("width", 619).attr("height", 50)
  .style("font-family", legFont);
const legRowsY = [8.5, 25, 41.5];
leg.append("line").attr("x1", 288).attr("x2", 322).attr("y1", legRowsY[0]).attr("y2", legRowsY[0])
  .attr("stroke", legendLineColors[0]).attr("stroke-width", 1.4);
leg.append("text").attr("x", 330).attr("y", legRowsY[0]).attr("dy", "0.35em")
  .attr("font-size", 14.5).attr("fill", legendTextColors[0]).text(seriesLabels[0]);
[1, 2, 3].forEach(k => {
  leg.append("line").attr("x1", 385).attr("x2", 418).attr("y1", legRowsY[k - 1]).attr("y2", legRowsY[k - 1])
    .attr("stroke", legendLineColors[k]).attr("stroke-width", k === 1 ? 1.4 : 1.6)
    .attr("stroke-dasharray", k >= 2 ? "6,4" : null);
  leg.append("text").attr("x", 427).attr("y", legRowsY[k - 1]).attr("dy", "0.35em")
    .attr("font-size", 14.5).attr("fill", legendTextColors[k]).text(seriesLabels[k]);
});
leg.append("text").attr("x", 611).attr("y", legRowsY[2]).attr("dy", "0.35em").attr("text-anchor", "end")
  .attr("font-size", 14.5).attr("fill", "#222").text("[cm/s]");
</script>
</body></html>
